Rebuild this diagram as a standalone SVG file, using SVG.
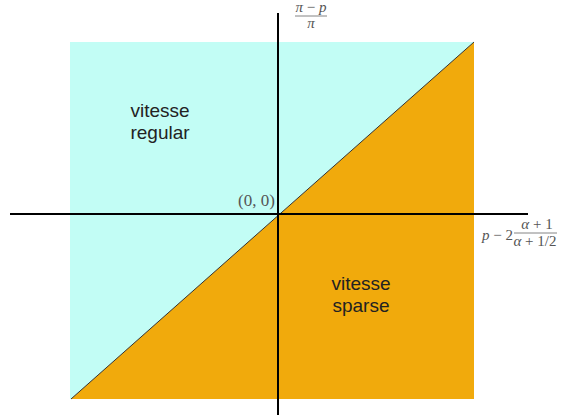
<svg xmlns="http://www.w3.org/2000/svg" width="561" height="419" viewBox="0 0 561 419">
<style>
.math{font-family:"Liberation Serif","DejaVu Serif",serif;font-style:italic;fill:#555;font-size:15px}
.mathn{font-family:"Liberation Serif","DejaVu Serif",serif;fill:#555;font-size:17px}
.lbl{font-family:"Liberation Sans",Arial,sans-serif;fill:#222;font-size:19px;text-anchor:middle}
.axis{stroke:#000;stroke-width:2;fill:none}
</style>
<rect width="561" height="419" fill="#fff"/>
<g id="regions">
<polygon points="70,42 474,42 71,399 70,399" fill="#C2FDF5"/>
<polygon points="474,42 474,399 71,399" fill="#F1AA0C"/>
<line x1="71" y1="399" x2="474" y2="42" stroke="#333" stroke-width="1"/>
</g>
<g id="axes">
<line class="axis" x1="10" y1="214" x2="528" y2="214"/>
<line class="axis" x1="278" y1="13" x2="278" y2="415"/>
</g>
<g id="labels">
<text class="lbl" x="160" y="117">vitesse</text>
<text class="lbl" x="160" y="139">regular</text>
<text class="lbl" x="361" y="290">vitesse</text>
<text class="lbl" x="361" y="312">sparse</text>
<text class="mathn" x="238" y="206">(0, 0)</text>
<g id="ylabel">
<text class="math" x="311" y="12" text-anchor="middle">π <tspan font-style="normal">−</tspan> p</text>
<line x1="295" y1="16" x2="327" y2="16" stroke="#666" stroke-width="0.8"/>
<text class="math" x="311" y="28" text-anchor="middle">π</text>
</g>
<g id="xlabel">
<text class="math" x="482" y="240">p <tspan font-style="normal">− 2</tspan></text>
<text class="math" x="537" y="229" text-anchor="middle">α <tspan font-style="normal">+ 1</tspan></text>
<line x1="514" y1="233" x2="557" y2="233" stroke="#666" stroke-width="0.8"/>
<text class="math" x="535" y="246" text-anchor="middle">α <tspan font-style="normal">+ 1/2</tspan></text>
</g>
</g>
</svg>
